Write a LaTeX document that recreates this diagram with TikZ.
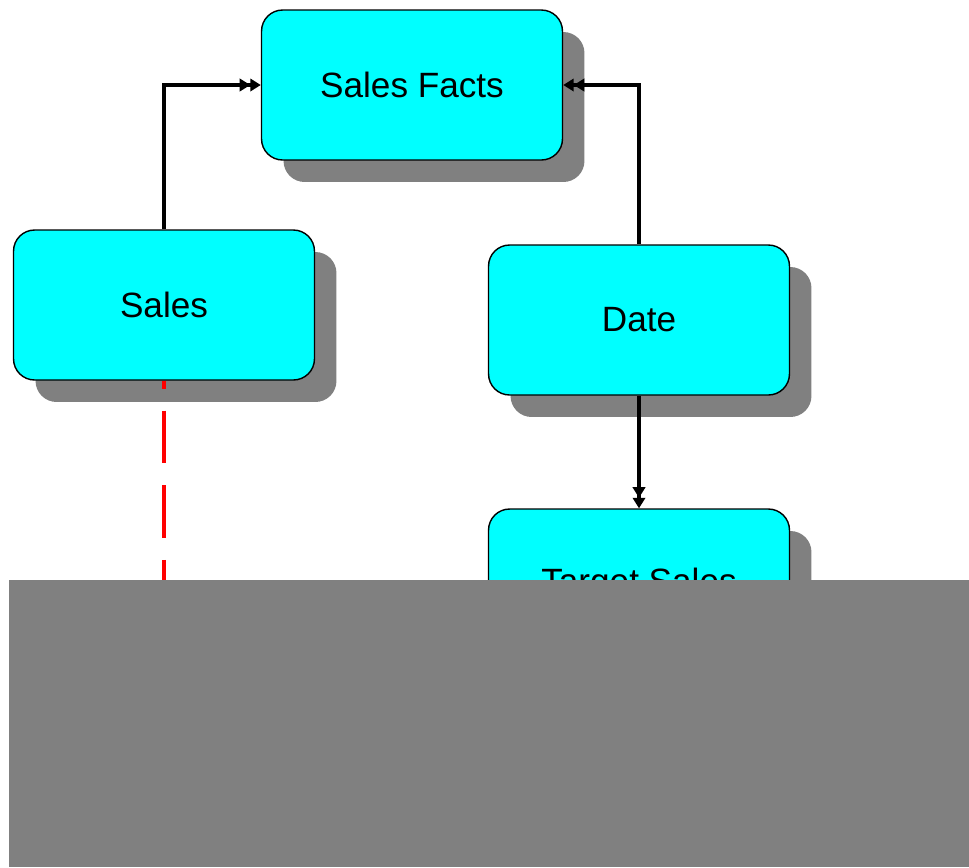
\documentclass[tikz,border=0pt]{standalone}
\usepackage{fontspec}
\setmainfont{Liberation Sans}
\usetikzlibrary{arrows.meta,shadows}
\definecolor{boxcyan}{RGB}{0,255,255}
\definecolor{shadowgray}{RGB}{128,128,128}

\begin{document}
\begin{tikzpicture}[x=0.02cm,y=-0.02cm,
    entity/.style={draw=black,line width=0.8pt,fill=boxcyan,rounded corners=12pt,
        minimum width=6.02cm,minimum height=3cm,font=\fontsize{20}{24}\selectfont,
        drop shadow={shadow xshift=0.44cm,shadow yshift=-0.44cm,fill=shadowgray,opacity=1}},
    link/.style={line width=2pt,-{Triangle[length=6pt,width=7pt]Triangle[length=6pt,width=7pt]}},
    redline/.style={red,line width=2.8pt,dash pattern=on 30pt off 12.5pt,dash phase=25.5pt}]
    \useasboundingbox (0,0) rectangle (969,867);
    \node[entity] (facts) at (412,85) {Sales Facts};
    \node[entity] (sales) at (164,305) {Sales};
    \node[entity] (date) at (639,320) {Date};
    \node[entity] (target) at (639,584) {Target Sales};
    \draw[link] (sales.north) |- (facts.west);
    \draw[link] (date.north) |- (facts.east);
    \draw[link] (date.south) -- (target.north);
    \coordinate (cut) at (164,700);
    \draw[redline] (sales.south) -- (cut);
    % grey panel over the lower part
    \fill[shadowgray] (9,580) rectangle (969,867);
\end{tikzpicture}
\end{document}
